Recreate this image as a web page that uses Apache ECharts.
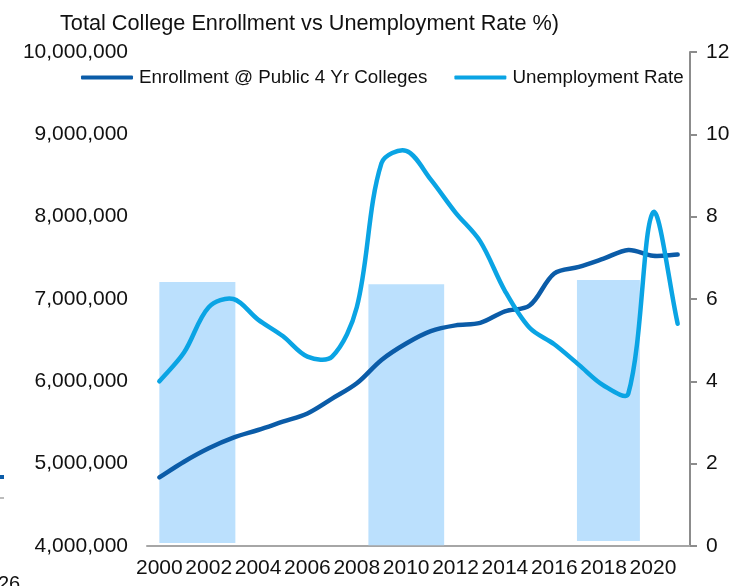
<!DOCTYPE html>
<html>
<head>
<meta charset="utf-8">
<script src="https://cdn.jsdelivr.net/npm/echarts@6/dist/echarts.min.js"></script>
<style>
  html, body { margin: 0; padding: 0; background: #fff; }
  #main { width: 752px; height: 586px; }
</style>
</head>
<body>
<div id="main"></div>
<script>
// years on the category axis
const years = ['2000','2001','2002','2003','2004','2005','2006','2007','2008','2009','2010',
  '2011','2012','2013','2014','2015','2016','2017','2018','2019','2020','2021'];
// enrollment @ public 4 yr colleges
const enrollment = [4834000, 5024000, 5187000, 5316000, 5409000, 5510000, 5610000, 5790000,
  5976000, 6260000, 6460000, 6610000, 6680000, 6710000, 6850000, 6920000, 7310000, 7390000,
  7490000, 7595000, 7525000, 7540000];
// unemployment rate %
const unemployment = [4.0, 4.7, 5.8, 6.0, 5.5, 5.1, 4.6, 4.6, 5.8, 9.3, 9.6, 8.9, 8.1, 7.4,
  6.2, 5.3, 4.9, 4.4, 3.9, 3.7, 8.1, 5.4];
// shaded blocks (year index from/to, right axis low/high)
const shadeFrom = [0, 8.47, 16.92];
const shadeTo = [3.08, 11.54, 19.47];
const shadeLow = [0.07, 0.02, 0.12];
const shadeHigh = [6.41, 6.36, 6.46];

const shadeData = shadeFrom.map((f, i) => [f, shadeTo[i], shadeLow[i], shadeHigh[i]]);

const FONT = 'Liberation Sans, Arial, sans-serif';

const dist = (a, b) => Math.hypot(b[0] - a[0], b[1] - a[1]);

// excel-like smoothed line (bezier through the real points, tangents weighted by segment length)
const smoothLine = (values, color) => (params, api) => {
  if (params.dataIndex !== 0) return null;
  const pts = values.map((v, i) => api.coord([i, v]));
  const t = 1 / 6;
  let d = 'M' + pts[0][0] + ' ' + pts[0][1];
  for (let i = 0; i < pts.length - 1; i++) {
    const p0 = pts[i - 1] || pts[i];
    const p1 = pts[i];
    const p2 = pts[i + 1];
    const p3 = pts[i + 2] || p2;
    const d01 = dist(p0, p1), d12 = dist(p1, p2), d23 = dist(p2, p3);
    const f1 = d01 + d12 > 0 ? t * 2 * d12 / (d01 + d12) : t;
    const f2 = d12 + d23 > 0 ? t * 2 * d12 / (d12 + d23) : t;
    const c1x = p1[0] + (p2[0] - p0[0]) * f1;
    const c1y = p1[1] + (p2[1] - p0[1]) * f1;
    const c2x = p2[0] - (p3[0] - p1[0]) * f2;
    const c2y = p2[1] - (p3[1] - p1[1]) * f2;
    d += ' C' + c1x + ' ' + c1y + ' ' + c2x + ' ' + c2y + ' ' + p2[0] + ' ' + p2[1];
  }
  return {
    type: 'path',
    shape: { pathData: d },
    style: { fill: 'none', stroke: color, lineWidth: 4.5, lineCap: 'round', lineJoin: 'round' }
  };
};

const chartDom = document.getElementById('main');
const myChart = echarts.init(chartDom);
const option = {
  animation: false,
  title: {
    text: 'Total College Enrollment vs Unemployment Rate %)',
    left: 55,
    top: 8,
    textStyle: { fontFamily: FONT, fontSize: 21.7, fontWeight: 'normal', color: '#111' }
  },
  legend: {
    left: 76,
    top: 63,
    itemWidth: 52,
    itemHeight: 4,
    itemGap: 27,
    icon: 'roundRect',
    textStyle: { fontFamily: FONT, fontSize: 18.8, color: '#111', padding: [0, 0, 0, 1] },
    data: ['Enrollment @ Public 4 Yr Colleges', 'Unemployment Rate']
  },
  grid: { left: 147, right: 62, top: 52, bottom: 40, containLabel: false },
  xAxis: [
    {
      type: 'category',
      data: years,
      boundaryGap: true,
      axisLine: { lineStyle: { color: '#a6a6a6', width: 2 } },
      axisTick: { show: false },
      axisLabel: {
        interval: 1, margin: 12, hideOverlap: false,
        fontFamily: FONT, fontSize: 21, color: '#111'
      }
    },
    {
      type: 'value', min: -0.5, max: 21.5, show: false
    }
  ],
  yAxis: [
    {
      type: 'value',
      min: 4000000, max: 10000000, interval: 1000000,
      axisLine: { show: false },
      axisTick: { show: false },
      splitLine: { show: false },
      axisLabel: {
        margin: 19, fontFamily: FONT, fontSize: 21, color: '#111',
        formatter: v => v.toLocaleString('en-US')
      }
    },
    {
      type: 'value',
      min: 0, max: 12, interval: 2,
      position: 'right',
      axisLine: { show: true, lineStyle: { color: '#8c8c8c', width: 2 } },
      axisTick: { show: true, length: 7, lineStyle: { color: '#8c8c8c', width: 2 } },
      splitLine: { show: false },
      axisLabel: { margin: 16, fontFamily: FONT, fontSize: 21, color: '#111' }
    }
  ],
  series: [
    {
      type: 'custom',
      xAxisIndex: 1,
      yAxisIndex: 1,
      silent: true,
      z: 1,
      data: shadeData,
      renderItem: (params, api) => {
        const p0 = api.coord([api.value(0), api.value(3)]);
        const p1 = api.coord([api.value(1), api.value(2)]);
        return {
          type: 'rect',
          shape: { x: p0[0], y: p0[1], width: p1[0] - p0[0], height: p1[1] - p0[1] },
          style: { fill: '#bbe0fd' }
        };
      }
    },
    {
      name: 'Enrollment @ Public 4 Yr Colleges',
      type: 'custom',
      silent: true,
      z: 3,
      data: enrollment.map((v, i) => [i, v]),
      itemStyle: { color: '#0b5ca8' },
      renderItem: smoothLine(enrollment, '#0b5ca8')
    },
    {
      name: 'Unemployment Rate',
      type: 'custom',
      yAxisIndex: 1,
      silent: true,
      z: 4,
      data: unemployment.map((v, i) => [i, v]),
      itemStyle: { color: '#0aa4e4' },
      renderItem: smoothLine(unemployment, '#0aa4e4')
    }
  ],
  graphic: [
    { type: 'line', shape: { x1: 0, y1: 477, x2: 4, y2: 477 }, style: { stroke: '#0b5ca8', lineWidth: 4 } },
    { type: 'line', shape: { x1: 0, y1: 498, x2: 4, y2: 498 }, style: { stroke: '#a6a6a6', lineWidth: 1.5 } },
    { type: 'text', left: -2, top: 574, style: { text: '26', font: '20px Liberation Sans, Arial, sans-serif', fill: '#111' } }
  ]
};
myChart.setOption(option);
</script>
</body>
</html>
